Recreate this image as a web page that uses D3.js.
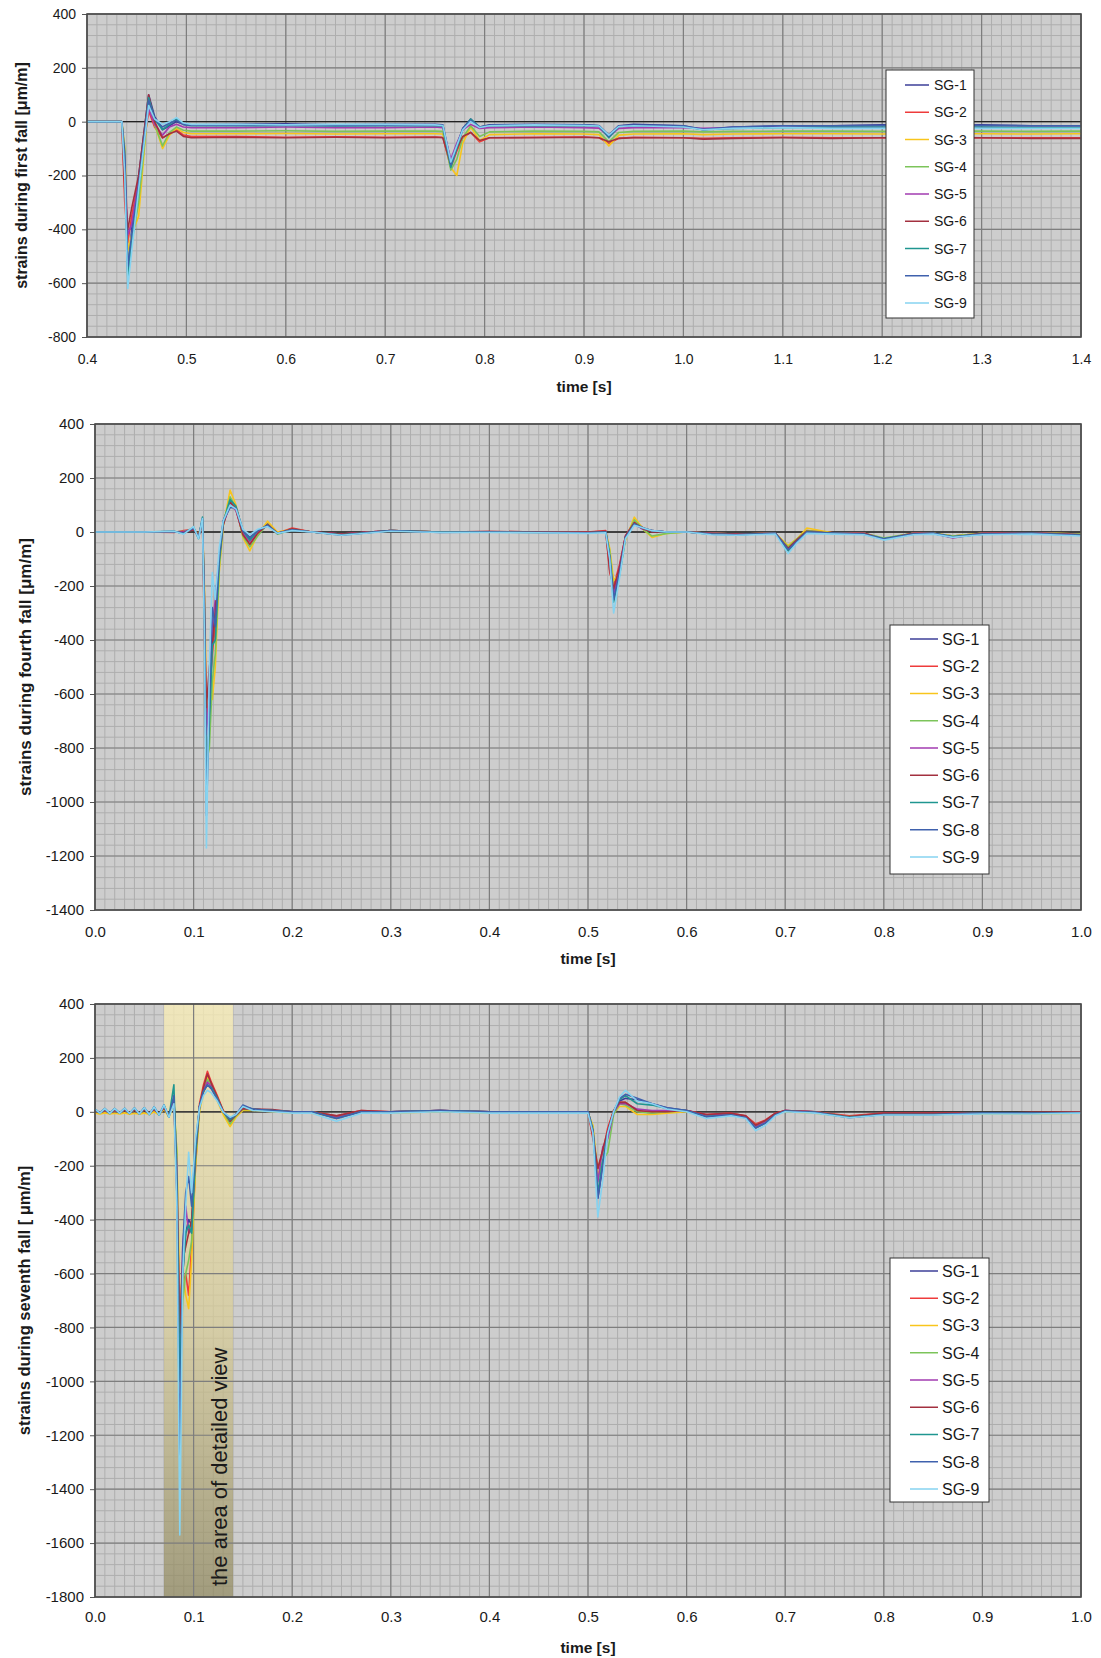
<!DOCTYPE html>
<html>
<head>
<meta charset="utf-8">
<script src="https://cdn.jsdelivr.net/npm/d3@7"></script>
<style>
  body { margin: 0; background: #fff; }
  text { font-family: "Liberation Sans", Arial, sans-serif; fill: #1a1a1a; }
</style>
</head>
<body>
<svg id="chart" width="1101" height="1658"></svg>
<script>
var names = ["SG-1", "SG-2", "SG-3", "SG-4", "SG-5", "SG-6", "SG-7", "SG-8", "SG-9"];
var colors = ["#3c3f98", "#ee3b3b", "#f8c51c", "#7cc45a", "#a23bb0", "#a3303f", "#1f9690", "#3f61ad", "#86d3f0"];

// ---- first fall ----
var t1 = [0.40, 0.435, 0.438, 0.441, 0.445, 0.452, 0.462, 0.468, 0.476, 0.483, 0.490, 0.497, 0.505, 0.55, 0.60, 0.65, 0.70, 0.75, 0.758, 0.766,
          0.772, 0.778, 0.786, 0.795, 0.805, 0.85, 0.90, 0.915, 0.925, 0.935, 0.95, 1.00, 1.02, 1.05, 1.10, 1.15, 1.20, 1.25, 1.30, 1.35, 1.40];
var f1sg1 = [0, 0, -120, -560, -400, -200, 100, 20, -30, -15, 0, -10, -12, -10, -8, -12, -10, -10, -12, -150, -90, -25, 10, -20, -12, -10, -12, -15, -50, -15, -10, -15, -30, -20, -15, -15, -12, -15, -12, -15, -15];
var f1sg2 = [0, 0, -300, -450, -350, -220, 40, -20, -60, -45, -30, -50, -55, -55, -58, -56, -58, -57, -58, -170, -110, -60, -40, -75, -60, -58, -57, -60, -80, -62, -58, -60, -62, -60, -58, -60, -60, -58, -60, -60, -60];
var f1sg3 = [0, 0, -100, -480, -420, -350, 80, -10, -100, -50, -25, -40, -45, -45, -44, -46, -45, -45, -46, -170, -200, -80, -20, -70, -48, -45, -46, -48, -90, -50, -46, -45, -48, -46, -45, -45, -46, -45, -45, -46, -45];
var f1sg4 = [0, 0, -100, -520, -450, -300, 70, -10, -90, -40, -20, -32, -35, -35, -34, -36, -35, -35, -36, -180, -140, -60, -15, -55, -38, -35, -36, -38, -75, -40, -36, -35, -38, -36, -35, -35, -36, -35, -35, -36, -35];
var f1sg5 = [0, 0, -150, -420, -380, -220, 50, -10, -50, -20, -10, -20, -22, -22, -20, -22, -22, -20, -22, -140, -80, -30, -10, -25, -22, -20, -22, -24, -55, -25, -22, -22, -25, -22, -20, -22, -22, -20, -22, -22, -22];
var f1sg6 = [0, 0, -250, -400, -320, -200, 100, 0, -60, -45, -35, -55, -60, -58, -60, -58, -60, -58, -60, -160, -100, -55, -40, -70, -60, -60, -58, -60, -75, -62, -60, -60, -65, -62, -60, -62, -60, -62, -60, -62, -62];
var f1sg7 = [0, 0, -150, -580, -450, -250, 90, 10, -30, -10, 10, -10, -15, -15, -14, -16, -15, -15, -16, -170, -100, -30, 10, -20, -15, -15, -14, -16, -60, -18, -15, -18, -30, -25, -22, -20, -20, -22, -20, -22, -22];
var f1sg8 = [0, 0, -120, -540, -420, -230, 80, 10, -20, -5, 5, -10, -13, -13, -12, -14, -13, -13, -14, -160, -90, -25, 5, -20, -13, -13, -12, -14, -55, -16, -13, -15, -28, -20, -15, -15, -14, -15, -14, -15, -15];
var f1sg9 = [0, 0, -200, -620, -480, -250, 60, 10, -10, 0, 15, -5, -10, -10, -12, -10, -10, -12, -14, -150, -90, -30, 0, -22, -15, -12, -14, -16, -50, -18, -15, -20, -30, -25, -22, -25, -25, -22, -25, -25, -25];

// ---- fourth fall ----
var t2 = [0.0, 0.05, 0.08, 0.09, 0.1, 0.105, 0.109, 0.111, 0.113, 0.116, 0.119, 0.122, 0.126, 0.13, 0.137, 0.143, 0.15, 0.157, 0.165, 0.175,
          0.185, 0.2, 0.22, 0.25, 0.3, 0.35, 0.4, 0.45, 0.5, 0.518, 0.522, 0.526, 0.532, 0.538, 0.547, 0.556, 0.565, 0.58, 0.6, 0.625,
          0.65, 0.69, 0.703, 0.712, 0.722, 0.75, 0.78, 0.8, 0.83, 0.85, 0.87, 0.9, 0.95, 1.0];
var f4sg1 = [0, 0, 2, -5, 15, -20, 45, -250, -900, -700, -400, -300, -100, 40, 110, 90, 0, -25, 0, 25, -5, 10, 0, -10, 5, 0, 0, 0, -2, 0, -80, -220, -140, -20, 30, 10, 5, 0, 0, -5, -10, -5, -60, -30, 0, -5, -5, -25, -5, -5, -20, -5, -3, -10];
var f4sg2 = [0, 0, -2, 5, 10, -15, 40, -400, -690, -600, -450, -350, -120, 30, 120, 80, -10, -50, -5, 30, -5, 15, 0, -8, 5, 0, 2, 0, 0, 5, -150, -200, -120, -15, 40, 15, 5, 0, 0, -5, -8, -5, -55, -25, 5, -3, -5, -25, -5, -5, -15, -5, -3, -8];
var f4sg3 = [0, 0, 0, -3, 12, -10, 35, -200, -600, -620, -620, -500, -150, 20, 155, 100, -20, -70, -10, 40, 0, 10, 0, -10, 5, 0, 0, 0, -3, 0, -60, -180, -150, -30, 55, 10, -20, -5, 0, -5, -8, -5, -50, -25, 15, -5, -5, -25, -5, -5, -15, -5, -3, -8];
var f4sg4 = [0, 0, 0, 3, 10, -12, 40, -250, -850, -800, -550, -450, -130, 25, 130, 90, -15, -55, -15, 30, -8, 8, 0, -10, 5, 0, 0, 0, -2, 0, -70, -210, -160, -25, 45, 10, -15, -5, 0, -5, -8, -5, -55, -25, 5, -5, -5, -22, -5, -5, -15, -5, -3, -8];
var f4sg5 = [0, 0, 0, 2, 10, -15, 35, -250, -750, -600, -350, -250, -90, 30, 100, 80, -5, -35, 0, 25, -5, 8, 0, -8, 5, 0, 0, 0, -2, 0, -100, -230, -130, -15, 30, 10, 5, 0, 0, -5, -8, -5, -65, -30, 0, -5, -5, -28, -5, -5, -22, -5, -3, -10];
var f4sg6 = [0, 0, 0, -2, 8, -10, 35, -350, -650, -500, -420, -300, -100, 25, 110, 85, -10, -45, -5, 28, -5, 12, 0, -8, 5, 0, 2, 0, 0, 3, -140, -210, -130, -15, 35, 12, 0, 0, 0, -5, -8, -5, -60, -28, 3, -5, -5, -28, -5, -5, -20, -5, -3, -10];
var f4sg7 = [0, 0, 3, -5, 18, -25, 55, -300, -950, -700, -420, -400, -110, 35, 120, 95, 5, -30, 5, 25, -5, 8, 0, -10, 5, 0, 0, -2, -3, 0, -90, -260, -160, -20, 30, 15, 5, 0, 0, -8, -10, -5, -70, -35, 0, -5, -8, -25, -8, -5, -18, -8, -5, -12];
var f4sg8 = [0, 0, 2, -5, 15, -22, 50, -300, -1050, -650, -280, -350, -90, 40, 90, 90, 5, -20, 5, 25, -5, 8, 0, -12, 5, -2, 0, -2, -3, 0, -90, -250, -150, -20, 30, 15, 5, 0, 0, -8, -10, -5, -65, -35, 0, -5, -8, -25, -8, -5, -18, -8, -5, -12];
var f4sg9 = [0, 0, 3, -8, 20, -25, 50, -400, -1170, -500, -150, -250, -60, 40, 100, 85, 10, -10, 10, 20, -5, 5, 0, -12, 3, -2, -2, -3, -5, -3, -100, -300, -170, -25, 25, 15, 5, 0, 0, -10, -12, -8, -80, -40, -5, -8, -10, -30, -10, -8, -20, -10, -8, -15];

// ---- seventh fall ----
var t3 = [0.0, 0.005, 0.01, 0.015, 0.02, 0.025, 0.03, 0.035, 0.04, 0.045, 0.05, 0.055, 0.06, 0.065, 0.07, 0.075,
          0.08, 0.083, 0.086, 0.089, 0.092, 0.095, 0.098, 0.102, 0.106, 0.11,
          0.114, 0.118, 0.124, 0.13, 0.137, 0.143, 0.15, 0.16, 0.18, 0.2,
          0.22, 0.245, 0.27, 0.3, 0.35, 0.4, 0.45, 0.5, 0.505, 0.51,
          0.515, 0.52, 0.526, 0.532, 0.538, 0.55, 0.565, 0.58, 0.6, 0.62,
          0.645, 0.66, 0.67, 0.68, 0.69, 0.7, 0.73, 0.765, 0.8, 0.85,
          0.9, 0.95, 1.0];
var f7sg1 = [5, -3, 6, -4, 6, -3, 7, -4, 7, -5, 8, -6, 10, -8, 15, -15,
             50, -200, -900, -600, -450, -400, -420, -150, 20, 80,
             100, 90, 50, 0, -25, -10, 20, 10, 5, 0,
             0, -20, 0, 0, 5, 0, 0, 0, -60, -320,
             -200, -80, 0, 40, 50, 45, 30, 15, 5, -15,
             -10, -20, -55, -40, -10, 5, 0, -20, -10, -10,
             -5, -5, -3];
var f7sg2 = [5, -3, 6, -4, 6, -3, 7, -4, 7, -5, 8, -6, 10, -8, 15, -15,
             40, -300, -800, -650, -600, -680, -500, -200, 30, 100,
             150, 110, 60, 5, -40, -15, 10, 10, 5, 0,
             0, -15, 5, 0, 5, 0, 0, 0, -100, -210,
             -150, -60, 5, 35, 35, 5, -5, 0, 5, -10,
             -5, -15, -45, -30, -5, 5, 0, -15, -5, -5,
             -5, -3, -2];
var f7sg3 = [-5, -8, -4, -8, -5, -8, -4, -9, -5, -9, -4, -10, 0, -12, 10, -20,
             30, -150, -700, -600, -680, -730, -550, -200, 0, 70,
             130, 100, 40, -10, -55, -20, 5, 5, 0, -5,
             -5, -20, 0, -5, 0, -5, -5, -5, -50, -230,
             -200, -80, -5, 20, 20, -10, -10, -5, 0, -15,
             -10, -20, -50, -35, -10, 0, -5, -20, -10, -10,
             -8, -8, -5];
var f7sg4 = [5, -3, 6, -4, 6, -3, 7, -4, 7, -5, 8, -6, 10, -8, 15, -15,
             40, -150, -950, -700, -600, -550, -480, -180, 10, 80,
             120, 100, 50, 0, -45, -15, 10, 8, 3, 0,
             0, -18, 0, 0, 3, 0, 0, 0, -60, -250,
             -180, -150, -10, 30, 25, 0, -5, 0, 3, -15,
             -8, -20, -50, -35, -8, 3, 0, -18, -8, -8,
             -5, -5, -3];
var f7sg5 = [5, -3, 6, -4, 6, -3, 7, -4, 7, -5, 8, -6, 10, -8, 15, -15,
             40, -200, -850, -500, -350, -450, -440, -150, 20, 80,
             110, 95, 50, 0, -30, -10, 15, 8, 5, 0,
             0, -20, 0, 0, 5, 0, 0, 0, -70, -260,
             -130, -100, 0, 30, 30, 10, 5, 5, 5, -12,
             -8, -18, -55, -38, -10, 5, 0, -20, -8, -8,
             -5, -5, -3];
var f7sg6 = [5, -3, 6, -4, 6, -3, 7, -4, 7, -5, 8, -6, 10, -8, 15, -15,
             40, -280, -820, -550, -500, -450, -400, -160, 20, 90,
             140, 105, 55, 5, -35, -12, 12, 10, 8, 0,
             0, -15, 5, 0, 5, 0, 0, 0, -90, -210,
             -140, -70, 5, 35, 35, 5, 0, 0, 5, -10,
             -5, -15, -50, -32, -5, 5, 0, -18, -5, -5,
             -5, -3, -2];
var f7sg7 = [10, -5, 12, -6, 12, -5, 13, -6, 14, -8, 15, -10, 18, -12, 25, -20,
             100, -250, -1000, -600, -450, -420, -450, -150, 20, 75,
             100, 90, 50, 0, -30, -10, 20, 10, 5, 0,
             0, -25, 0, 0, 5, 0, 0, 0, -70, -300,
             -180, -80, 0, 45, 60, 30, 25, 12, 5, -18,
             -12, -22, -60, -42, -12, 3, -2, -20, -10, -10,
             -5, -5, -5];
var f7sg8 = [10, -5, 12, -6, 12, -5, 13, -6, 14, -8, 15, -10, 18, -12, 25, -20,
             60, -300, -1290, -500, -300, -240, -350, -120, 20, 75,
             100, 85, 45, 0, -25, -10, 25, 10, 5, 0,
             0, -25, 0, 0, 5, 0, 0, 0, -70, -320,
             -200, -80, 0, 50, 65, 50, 30, 15, 5, -18,
             -12, -22, -60, -42, -12, 3, -2, -22, -10, -10,
             -5, -5, -5];
var f7sg9 = [10, -5, 12, -6, 12, -5, 13, -6, 14, -8, 15, -10, 18, -12, 25, -20,
             30, -350, -1570, -600, -350, -150, -300, -100, 15, 60,
             80, 70, 40, 0, -20, -10, 20, 5, 0, -5,
             -5, -35, -5, -5, 0, -5, -5, -5, -80, -390,
             -250, -80, 0, 55, 80, 40, 30, 10, 0, -25,
             -15, -25, -70, -50, -15, 0, -5, -22, -12, -12,
             -8, -8, -5];

var xTicks1 = [0.4, 0.5, 0.6, 0.7, 0.8, 0.9, 1.0, 1.1, 1.2, 1.3, 1.4];
var xTicks2 = [0.0, 0.1, 0.2, 0.3, 0.4, 0.5, 0.6, 0.7, 0.8, 0.9, 1.0];
var yTicks1 = [400, 200, 0, -200, -400, -600, -800];
var yTicks2 = [400, 200, 0, -200, -400, -600, -800, -1000, -1200, -1400];
var yTicks3 = [400, 200, 0, -200, -400, -600, -800, -1000, -1200, -1400, -1600, -1800];
var detailBand = [0.07, 0.14];

var svg = d3.select("#chart");
svg.append("rect").attr("width", 1101).attr("height", 1658).attr("fill", "#fff");

var defs = svg.append("defs");
var bandGradient = defs.append("linearGradient")
    .attr("id", "bandGradient")
    .attr("x1", "0").attr("x2", "0").attr("y1", "0").attr("y2", "1");
bandGradient.append("stop").attr("offset", "0%").style("stop-color", "#fbefb6").style("stop-opacity", 0.75);
bandGradient.append("stop").attr("offset", "55%").style("stop-color", "#d8cc95").style("stop-opacity", 0.7);
bandGradient.append("stop").attr("offset", "100%").style("stop-color", "#8f875c").style("stop-opacity", 0.7);

function drawChart(c) {
  var g = svg.append("g");
  var x = d3.scaleLinear().domain(c.xDomain).range([c.left, c.right]);
  var y = d3.scaleLinear().domain(c.yDomain).range([c.bottom, c.top]);

  g.append("rect")
      .attr("x", c.left).attr("y", c.top)
      .attr("width", c.right - c.left).attr("height", c.bottom - c.top)
      .attr("fill", "#cdcdcd");

  // minor grid
  var nx = Math.round((c.xDomain[1] - c.xDomain[0]) / 0.01);
  var minorX = d3.range(0, nx + 1).map(function(i) { return c.xDomain[0] + i * 0.01; });
  var minorY = d3.range(c.yDomain[0], c.yDomain[1] + 1, 40);
  g.selectAll(".mx").data(minorX).enter().append("line")
      .attr("x1", function(d) { return x(d); }).attr("x2", function(d) { return x(d); })
      .attr("y1", c.top).attr("y2", c.bottom)
      .attr("stroke", "#aeaeae").attr("stroke-width", 1);
  g.selectAll(".my").data(minorY).enter().append("line")
      .attr("y1", function(d) { return y(d); }).attr("y2", function(d) { return y(d); })
      .attr("x1", c.left).attr("x2", c.right)
      .attr("stroke", "#aeaeae").attr("stroke-width", 1);

  if (c.band) {
    g.append("rect")
        .attr("x", x(c.band[0])).attr("y", c.top)
        .attr("width", x(c.band[1]) - x(c.band[0])).attr("height", c.bottom - c.top)
        .style("fill", "url(#bandGradient)");
  }

  // major grid
  g.selectAll(".gx").data(c.xTicks).enter().append("line")
      .attr("x1", function(d) { return x(d); }).attr("x2", function(d) { return x(d); })
      .attr("y1", c.top).attr("y2", c.bottom)
      .attr("stroke", "#7e7e7e").attr("stroke-width", 1.2);
  g.selectAll(".gy").data(c.yTicks).enter().append("line")
      .attr("y1", function(d) { return y(d); }).attr("y2", function(d) { return y(d); })
      .attr("x1", c.left).attr("x2", c.right)
      .attr("stroke", "#7e7e7e").attr("stroke-width", 1.2);

  // zero line
  g.append("line")
      .attr("x1", c.left).attr("x2", c.right)
      .attr("y1", y(0)).attr("y2", y(0))
      .attr("stroke", "#222").attr("stroke-width", 1.3);

  // axes
  var yAxis = d3.axisLeft(y).tickValues(c.yTicks).tickSizeInner(5).tickSizeOuter(0).tickPadding(6)
      .tickFormat(function(d) { return String(d); });
  var ya = g.append("g").attr("transform", "translate(" + c.left + ",0)").call(yAxis);
  ya.select(".domain").remove();
  ya.selectAll("line").attr("stroke", "#555");
  ya.selectAll("text").style("font-size", c.tickFont + "px").style("fill", "#1a1a1a")
      .style("font-family", "'Liberation Sans', Arial, sans-serif");

  var xAxis = d3.axisBottom(x).tickValues(c.xTicks).tickSize(0).tickPadding(c.xPad)
      .tickFormat(function(d) { return d.toFixed(1); });
  var xa = g.append("g").attr("transform", "translate(0," + c.bottom + ")").call(xAxis);
  xa.select(".domain").remove();
  xa.selectAll("text").style("font-size", c.tickFont + "px").style("fill", "#1a1a1a")
      .style("font-family", "'Liberation Sans', Arial, sans-serif");

  // series
  var line = d3.line()
      .x(function(d, i) { return x(c.times[i]); })
      .y(function(d) { return y(d); });
  c.values.forEach(function(vals, k) {
    g.append("path")
        .datum(vals)
        .attr("d", line)
        .attr("fill", "none")
        .attr("stroke", colors[k])
        .attr("stroke-width", 1.6)
        .attr("stroke-linejoin", "round");
  });

  // frame
  g.append("rect")
      .attr("x", c.left).attr("y", c.top)
      .attr("width", c.right - c.left).attr("height", c.bottom - c.top)
      .attr("fill", "none").attr("stroke", "#4a4a4a").attr("stroke-width", 1.6);

  if (c.band) {
    g.append("text")
        .attr("transform", "translate(" + (x(c.band[1]) - 6) + "," + (c.bottom - 11) + ") rotate(-90)")
        .style("font-size", "22px")
        .text("the area of detailed view");
  }

  // labels
  g.append("text")
      .attr("transform", "translate(" + c.yLabelX + "," + ((c.top + c.bottom) / 2) + ") rotate(-90)")
      .attr("text-anchor", "middle")
      .style("font-size", c.labelFont + "px").style("font-weight", "bold")
      .text(c.yLabel);
  g.append("text")
      .attr("x", (c.left + c.right) / 2).attr("y", c.xLabelY)
      .attr("text-anchor", "middle")
      .style("font-size", "15.5px").style("font-weight", "bold")
      .text("time [s]");

  // legend
  var L = c.legend;
  var lg = g.append("g");
  lg.append("rect")
      .attr("x", L.x).attr("y", L.y).attr("width", L.w).attr("height", L.h)
      .attr("fill", "#fff").attr("stroke", "#333").attr("stroke-width", 1);
  names.forEach(function(n, k) {
    var ry = L.row0 + k * L.step;
    lg.append("line")
        .attr("x1", L.x + L.line[0]).attr("x2", L.x + L.line[1])
        .attr("y1", ry).attr("y2", ry)
        .attr("stroke", colors[k]).attr("stroke-width", 1.5);
    lg.append("text")
        .attr("x", L.x + L.textX).attr("y", ry).attr("dy", "0.36em")
        .style("font-size", L.font + "px")
        .text(n);
  });
}

drawChart({
  left: 87, right: 1081, top: 14, bottom: 337,
  xDomain: [0.4, 1.4], yDomain: [-800, 400],
  xTicks: xTicks1, yTicks: yTicks1,
  times: t1,
  values: [f1sg1, f1sg2, f1sg3, f1sg4, f1sg5, f1sg6, f1sg7, f1sg8, f1sg9],
  tickFont: 14, xPad: 17, labelFont: 16,
  yLabel: "strains during first fall [\u03bcm/m]", yLabelX: 27, xLabelY: 392,
  legend: { x: 886, y: 70, w: 88, h: 248, row0: 85, step: 27.25, font: 14, line: [19, 43], textX: 48 }
});

drawChart({
  left: 95, right: 1081, top: 424, bottom: 910,
  xDomain: [0, 1], yDomain: [-1400, 400],
  xTicks: xTicks2, yTicks: yTicks2,
  times: t2,
  values: [f4sg1, f4sg2, f4sg3, f4sg4, f4sg5, f4sg6, f4sg7, f4sg8, f4sg9],
  tickFont: 15, xPad: 16, labelFont: 17,
  yLabel: "strains during fourth fall [\u03bcm/m]", yLabelX: 31, xLabelY: 964,
  legend: { x: 890, y: 625, w: 99, h: 249, row0: 639, step: 27.25, font: 16, line: [20, 48], textX: 52 }
});

drawChart({
  left: 95, right: 1081, top: 1004, bottom: 1597,
  xDomain: [0, 1], yDomain: [-1800, 400],
  xTicks: xTicks2, yTicks: yTicks3,
  times: t3,
  values: [f7sg1, f7sg2, f7sg3, f7sg4, f7sg5, f7sg6, f7sg7, f7sg8, f7sg9],
  tickFont: 15, xPad: 14, labelFont: 16.5,
  yLabel: "strains during seventh fall [ \u03bcm/m]", yLabelX: 30, xLabelY: 1653,
  band: detailBand,
  legend: { x: 890, y: 1258, w: 99, h: 244, row0: 1271, step: 27.25, font: 16, line: [20, 48], textX: 52 }
});
</script>
</body>
</html>
